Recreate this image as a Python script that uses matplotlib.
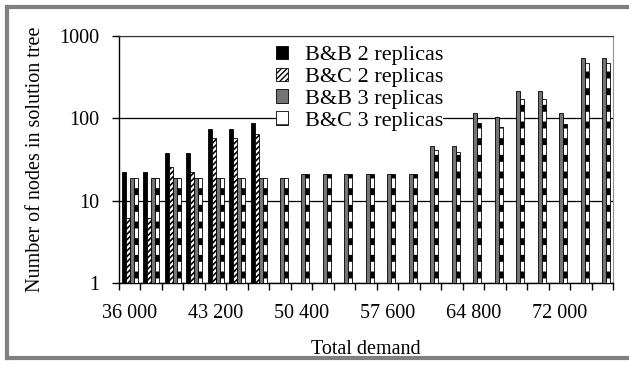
import numpy as np
import matplotlib
matplotlib.use("Agg")
import matplotlib.pyplot as plt
from matplotlib.lines import Line2D

plt.rcParams['font.family'] = ['Liberation Serif', 'DejaVu Serif']

# total demand per instance (one bar group each)
demand = [36000, 37800, 39600, 41400, 43200, 45000, 46800, 48600,
          50400, 52200, 54000, 55800, 57600, 59400, 61200, 63000,
          64800, 66600, 68400, 70200, 72000, 73800, 75600]
tick_labels = ['36 000', '43 200', '50 400', '57 600', '64 800', '72 000']

# number of nodes
bb2 = [22, 22, 38, 38, 74, 74, 88]          # only the first 7 demands
bc2 = [6.2, 6.2, 26, 22, 58, 57, 65]
bb3 = [19, 19, 19, 19, 19, 19, 19, 19, 21, 21, 21, 21, 21, 21,
       46, 46, 117, 104, 216, 216, 117, 540, 540]
bc3 = [19, 19, 19, 19, 19, 19, 19, 19, 21, 21, 21, 21, 21, 21,
       41, 39, 88, 79, 172, 172, 86, 470, 470]

fig = plt.figure(figsize=(6.29, 3.69), dpi=100)
ax = fig.add_axes([0.189, 0.233, 0.7856, 0.6694])

x = np.arange(len(demand))
w = 0.186
xa = np.arange(len(bb2))

def hatch_bar(xs, ys, off, lw, **kw):
    with plt.rc_context({'hatch.linewidth': lw}):
        bars = ax.bar(xs + off, ys, w, bottom=1, edgecolor='black', linewidth=0.6, zorder=3, **kw)
    for b in bars:
        if hasattr(b, 'set_hatch_linewidth'):
            b.set_hatch_linewidth(lw)
    return bars

hatch_bar(xa, np.array(bb2) - 1, -1.5 * w, 1.0, color='black', label='B&B 2 replicas')
hatch_bar(xa, np.array(bc2) - 1, -0.5 * w, 1.2, facecolor='white', hatch='//////', label='B&C 2 replicas')
hatch_bar(x, np.array(bb3) - 1, 0.5 * w, 1.0, facecolor='#757575', label='B&B 3 replicas')
hatch_bar(x, np.array(bc3) - 1, 1.5 * w, 5.0, facecolor='white', hatch='-', label='B&C 3 replicas')

ax.set_yscale('log')
ax.set_ylim(1, 1000)
ax.set_xlim(-0.5, len(demand) - 0.5)
ax.set_yticks([1, 10, 100, 1000])
ax.set_yticklabels(['1', '10', '100', '1000'])
ax.yaxis.set_minor_locator(matplotlib.ticker.NullLocator())
ax.tick_params(axis='y', length=5, width=1, pad=9, labelsize=14.5)

ax.set_xticks(x[::4])
ax.set_xticklabels(tick_labels)
ax.set_xticks(np.arange(-0.5, len(demand)), minor=True)
ax.tick_params(axis='x', which='major', length=0, pad=15, labelsize=14.5)
ax.tick_params(axis='x', which='minor', length=5, width=1, direction='out')

ax.grid(axis='y', which='major', color='black', linewidth=0.9, zorder=1)
ax.set_axisbelow(True)
ax.spines['top'].set_color('#333333')
ax.spines['right'].set_color('#909090')
ax.spines['left'].set_linewidth(1)
ax.spines['bottom'].set_linewidth(1)

ax.set_xlabel('Total demand', fontsize=14.5, labelpad=12)
ax.set_ylabel('Number of nodes in solution tree', fontsize=14.5, labelpad=10)

leg = ax.legend(loc='upper left', bbox_to_anchor=(0.295, 1.005), fontsize=16,
                frameon=True, facecolor='white', edgecolor='none', framealpha=1,
                fancybox=False, handlelength=0.55, handleheight=0.55,
                handletextpad=0.75, labelspacing=0.1, borderpad=0.0)
leg.set_zorder(2)   # under the top spine, over the grid lines

# grey frame around the picture
for xs, ys in [([0.011, 1.0], [0.981, 0.981]),
               ([0.011, 0.011], [0.03, 0.981]),
               ([0.011, 1.0], [0.03, 0.03])]:
    fig.add_artist(Line2D(xs, ys, transform=fig.transFigure, color='#808080', linewidth=3))

fig.savefig('out.png', dpi=100)
